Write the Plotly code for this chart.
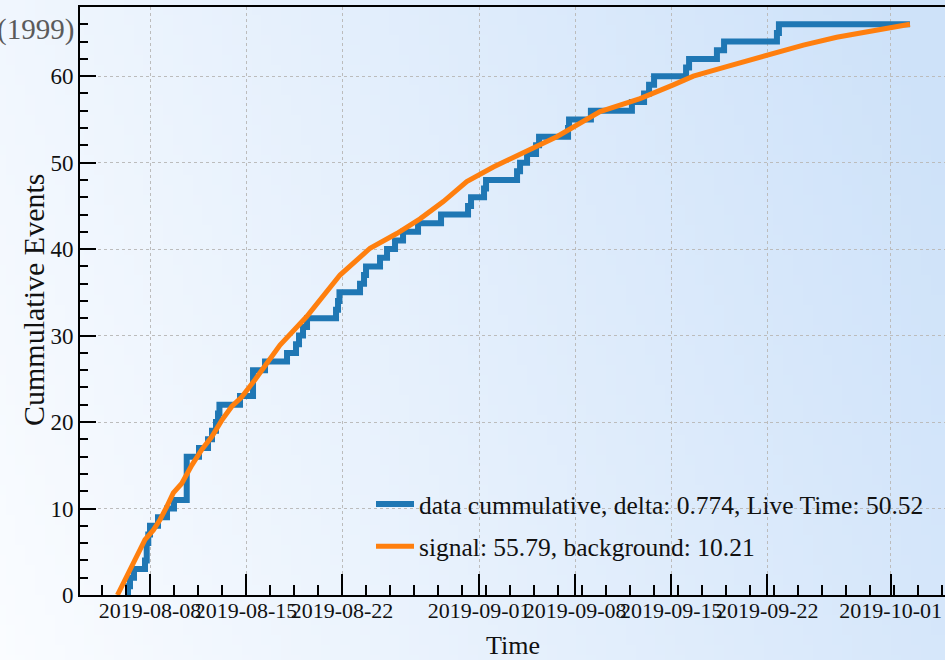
import zlib, struct, base64
import plotly.graph_objects as go

# ---------------- data ----------------
data_times = [
    "2019-08-06 07:45", "2019-08-06 09:30", "2019-08-06 13:00", "2019-08-06 20:00",
    "2019-08-07 15:15", "2019-08-07 18:15", "2019-08-07 21:00", "2019-08-08 00:00",
    "2019-08-08 14:00", "2019-08-09 05:45", "2019-08-09 18:00", "2019-08-10 16:15",
    "2019-08-11 13:45", "2019-08-12 05:30", "2019-08-12 12:30", "2019-08-12 19:30",
    "2019-08-12 23:00", "2019-08-13 01:30", "2019-08-14 13:30", "2019-08-15 12:15",
    "2019-08-16 09:15", "2019-08-17 23:45", "2019-08-18 15:30", "2019-08-18 20:45",
    "2019-08-19 03:45", "2019-08-19 10:45", "2019-08-21 13:30", "2019-08-21 17:00",
    "2019-08-21 19:30", "2019-08-23 07:30", "2019-08-23 14:30", "2019-08-23 18:00",
    "2019-08-24 18:30", "2019-08-25 06:45", "2019-08-25 20:45", "2019-08-26 10:45",
    "2019-08-27 13:00", "2019-08-29 05:15", "2019-08-31 04:30", "2019-08-31 09:45",
    "2019-09-01 08:30", "2019-09-01 12:00", "2019-09-03 18:15", "2019-09-03 23:30",
    "2019-09-04 11:45", "2019-09-05 03:30", "2019-09-05 08:45", "2019-09-07 11:30",
    "2019-09-07 13:15", "2019-09-09 03:30", "2019-09-12 03:15", "2019-09-13 00:30",
    "2019-09-13 09:15", "2019-09-13 18:00", "2019-09-16 02:00", "2019-09-16 07:15",
    "2019-09-18 08:00", "2019-09-18 20:30", "2019-09-22 17:00", "2019-09-22 20:30",
    "2019-10-02 09:45",
]
data_counts = [
    0, 1, 2, 3,
    4, 6, 7, 8,
    9, 10, 11, 16,
    17, 18, 19, 20,
    21, 22, 23, 26,
    27, 28, 29, 30,
    31, 32, 33, 34,
    35, 36, 37, 38,
    39, 40, 41, 42,
    43, 44, 45, 46,
    47, 48, 49, 50,
    51, 52, 53, 54,
    55, 56, 57, 58,
    59, 60, 61, 62,
    63, 64, 65, 66,
    66,
]

model_times = [
    "2019-08-05 15:00", "2019-08-06 10:00", "2019-08-07 03:30", "2019-08-07 15:15",
    "2019-08-08 05:45", "2019-08-08 17:30", "2019-08-09 05:15", "2019-08-09 16:45",
    "2019-08-10 07:30", "2019-08-11 01:00", "2019-08-11 18:30", "2019-08-12 12:00",
    "2019-08-13 05:30", "2019-08-13 23:00", "2019-08-14 16:30", "2019-08-15 15:45",
    "2019-08-17 11:30", "2019-08-19 10:15", "2019-08-21 20:30", "2019-08-24 01:00",
    "2019-08-25 23:45", "2019-08-27 16:30", "2019-08-29 09:15", "2019-08-31 02:15",
    "2019-09-02 00:45", "2019-09-04 05:15", "2019-09-06 15:45", "2019-09-09 19:30",
    "2019-09-12 17:30", "2019-09-15 03:45", "2019-09-16 14:45", "2019-09-19 01:00",
    "2019-09-21 23:00", "2019-09-24 15:15", "2019-09-27 01:30", "2019-09-29 17:45",
    "2019-10-02 09:45",
]
model_counts = [
    0.0, 2.5, 4.8, 6.4,
    7.5, 8.7, 10.2, 11.8,
    12.9, 15.0, 16.8, 18.3,
    20.2, 21.8, 22.9, 24.9,
    28.9, 32.2, 37.0, 40.1,
    41.8, 43.5, 45.5, 47.8,
    49.5, 51.1, 53.0, 55.9,
    57.4, 59.0, 60.0, 61.1,
    62.4, 63.6, 64.5, 65.3,
    66.0,
]

x_tick_vals = ["2019-08-08", "2019-08-15", "2019-08-22", "2019-09-01",
               "2019-09-08", "2019-09-15", "2019-09-22", "2019-10-01"]
x_tick_text = x_tick_vals
y_tick_vals = [0, 10, 20, 30, 40, 50, 60]

data_label = "data cummulative, delta: 0.774, Live Time: 50.52"
model_label = "signal: 55.79, background: 10.21"
x_title = "Time"
y_title = "Cummulative Events"
corner_text = "(1999)"

# ---------------- background gradient (styling) ----------------
def gradient_png(w, h):
    c0 = (250, 252, 255)
    c1 = (206, 226, 249)
    raw = bytearray()
    for j in range(h):
        raw.append(0)
        yf = j / (h - 1)
        for i in range(w):
            xf = i / (w - 1)
            t = 0.82 * xf + 0.22 * (1 - yf)
            t = max(0.0, min(1.0, t))
            for k in range(3):
                raw.append(int(round(c0[k] + (c1[k] - c0[k]) * t)))
    def chunk(tag, body):
        c = struct.pack(">I", len(body)) + tag + body
        return c + struct.pack(">I", zlib.crc32(tag + body) & 0xffffffff)
    png = b"\x89PNG\r\n\x1a\n"
    png += chunk(b"IHDR", struct.pack(">IIBBBBB", w, h, 8, 2, 0, 0, 0))
    png += chunk(b"IDAT", zlib.compress(bytes(raw), 9))
    png += chunk(b"IEND", b"")
    return "data:image/png;base64," + base64.b64encode(png).decode()

W, H = 945, 660
ML, MR, MT, MB = 80, 0, 7, 65
PW, PH = W - ML - MR, H - MT - MB

FONT = "Liberation Serif, Times New Roman, serif"
INK = "#111111"

fig = go.Figure()
fig.add_trace(go.Scatter(
    x=data_times, y=data_counts, mode="lines", line_shape="hv",
    line=dict(color="#1f77b4", width=6), name=data_label,
    legendgroup="a",
))
fig.add_trace(go.Scatter(
    x=model_times, y=model_counts, mode="lines",
    line=dict(color="#ff7f0e", width=5), name=model_label,
    legendgroup="b",
))

fig.add_layout_image(dict(
    source=gradient_png(96, 66), xref="paper", yref="paper",
    x=-ML / PW, y=1 + MT / PH, sizex=W / PW, sizey=H / PH,
    xanchor="left", yanchor="top", sizing="stretch", layer="below",
))

fig.add_annotation(
    text=corner_text, xref="paper", yref="paper",
    x=-4 / PW, y=(595 - 29) / PH, xanchor="right", yanchor="middle",
    showarrow=False, font=dict(family=FONT, size=29, color="#5a5a5a"),
)
fig.add_annotation(
    text=y_title, xref="paper", yref="paper", textangle=-90,
    x=(33 - ML) / PW, y=(595 - 300) / PH, xanchor="center", yanchor="middle",
    showarrow=False, font=dict(family=FONT, size=30, color=INK),
)
fig.add_annotation(
    text=x_title, xref="paper", yref="paper",
    x=(513 - ML) / PW, y=-(645 - 595) / PH, xanchor="center", yanchor="middle",
    showarrow=False, font=dict(family=FONT, size=26, color=INK),
)

fig.update_layout(
    width=W, height=H,
    margin=dict(l=ML, r=MR, t=MT, b=MB, autoexpand=False),
    paper_bgcolor="rgba(0,0,0,0)", plot_bgcolor="rgba(0,0,0,0)",
    font=dict(family=FONT, size=22, color=INK),
    showlegend=True,
    legend=dict(
        x=(371 - ML) / PW, y=(595 - 481) / PH, xanchor="left", yanchor="top",
        bgcolor="rgba(0,0,0,0)", borderwidth=0,
        font=dict(family=FONT, size=25.5, color=INK),
        traceorder="grouped", tracegroupgap=6, itemwidth=38,
    ),
    xaxis=dict(
        type="date", automargin=False,
        range=["2019-08-02 21:30", "2019-10-04 23:05"],
        tickmode="array", tickvals=x_tick_vals, ticktext=x_tick_text,
        tickangle=0, ticklabelstandoff=-5,
        ticks="inside", ticklen=21, tickwidth=2, tickcolor="black",
        showline=True, linecolor="black", linewidth=2, mirror=True,
        showgrid=True, gridcolor="#bcbcbc", griddash="dot", gridwidth=1,
        zeroline=False,
        tickfont=dict(family=FONT, size=22, color=INK),
        minor=dict(
            tickmode="linear", tick0="2019-08-08", dtick=1.75 * 86400000,
            ticks="inside", ticklen=10, tickwidth=1.5, tickcolor="black",
            showgrid=False,
        ),
    ),
    yaxis=dict(
        range=[0, 68], automargin=False,
        tickmode="array", tickvals=y_tick_vals,
        ticks="inside", ticklen=16, tickwidth=2, tickcolor="black",
        ticklabelstandoff=0,
        showline=True, linecolor="black", linewidth=2, mirror=False,
        showgrid=True, gridcolor="#bcbcbc", griddash="dot", gridwidth=1,
        zeroline=False,
        tickfont=dict(family=FONT, size=23, color=INK),
        minor=dict(
            tickmode="linear", tick0=0, dtick=2,
            ticks="inside", ticklen=8, tickwidth=1.5, tickcolor="black",
            showgrid=False,
        ),
    ),
)

fig.write_html(
    "out.html",
    config={"displayModeBar": False},
    post_script="document.body.style.margin='0px';document.body.style.overflow='hidden';",
)
